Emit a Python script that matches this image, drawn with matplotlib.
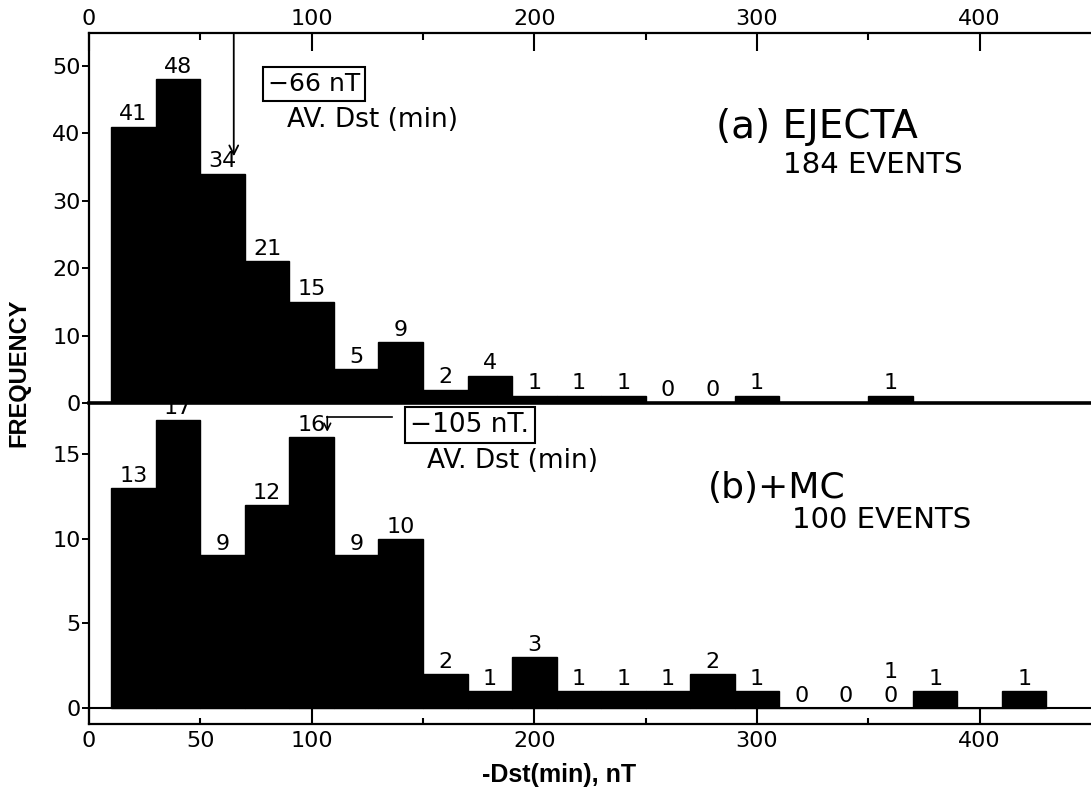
import matplotlib.pyplot as plt
from matplotlib.ticker import FixedLocator, FixedFormatter

plt.rcParams['font.family'] = ['DejaVu Sans']

# 20 nT bins of -Dst(min)
bin_centers = [20, 40, 60, 80, 100, 120, 140, 160, 180, 200, 220,
               240, 260, 280, 300, 320, 340, 360, 380, 400, 420]
ejecta_counts = [41, 48, 34, 21, 15, 5, 9, 2, 4, 1, 1,
                 1, 0, 0, 1, 0, 0, 1, 0, 0, 0]
mc_counts = [13, 17, 9, 12, 16, 9, 10, 2, 1, 3, 1,
             1, 1, 2, 1, 0, 0, 0, 1, 0, 1]
# which bins carry a count label
ejecta_labeled = [1, 1, 1, 1, 1, 1, 1, 1, 1, 1, 1,
                  1, 1, 1, 1, 0, 0, 1, 0, 0, 0]
mc_labeled = [1, 1, 1, 1, 1, 1, 1, 1, 1, 1, 1,
              1, 1, 1, 1, 1, 1, 1, 1, 0, 1]

ejecta_mean = 66
mc_mean = 105

fig = plt.figure(figsize=(10.91, 7.93), dpi=100)
ax2 = fig.add_axes([0.0816, 0.087, 0.9184, 0.4048])
ax1 = fig.add_axes([0.0816, 0.4918, 0.9184, 0.4666])

for ax in (ax1, ax2):
    ax.set_xlim(0, 450)
    ax.set_facecolor('none')
    ax.spines['right'].set_visible(False)
    for s in ax.spines.values():
        s.set_linewidth(1.6)
    ax.xaxis.set_major_locator(FixedLocator([0, 100, 200, 300, 400]))
    ax.xaxis.set_minor_locator(FixedLocator([50, 150, 250, 350]))
    ax.tick_params(axis='y', direction='out', length=5, width=1.4, labelsize=16, pad=1)

# (a) ejecta
ax1.bar(bin_centers, ejecta_counts, width=20, color='black', edgecolor='black', linewidth=1)
ax1.set_ylim(0, 54.9)
ax1.set_yticks([0, 10, 20, 30, 40, 50])
ax1.xaxis.tick_top()
ax1.tick_params(axis='x', which='major', direction='in', length=13, width=1.5,
                labelsize=16, pad=3)
ax1.tick_params(axis='x', which='minor', direction='in', length=5, width=1.5)
ax1.spines['bottom'].set_linewidth(2.6)
for x, c, lab in zip(bin_centers, ejecta_counts, ejecta_labeled):
    if lab:
        ax1.annotate(str(c), (x, c), xytext=(0, 2), textcoords='offset points',
                     ha='center', va='bottom', fontsize=16)

ax1.annotate('', xy=(ejecta_mean - 1, 36.6), xytext=(ejecta_mean - 1, 54.9),
             arrowprops=dict(arrowstyle='->', lw=1.3, color='black',
                             mutation_scale=16, shrinkA=0, shrinkB=0))
ax1.text(101, 47.4, '\u221266 nT', ha='center', va='center', fontsize=18,
         bbox=dict(boxstyle='square,pad=0.2', fc='white', ec='black', lw=1.5))
ax1.text(127.5, 42.0, 'AV. Dst (min)', ha='center', va='center', fontsize=19)
ax1.text(327, 40.9, '(a) EJECTA', ha='center', va='center', fontsize=28)
ax1.text(352, 35.3, '184 EVENTS', ha='center', va='center', fontsize=21)

# (b) + magnetic clouds
ax2.bar(bin_centers, mc_counts, width=20, color='black', edgecolor='black', linewidth=1)
ax2.axhline(0, color='black', lw=1.5)
ax2.set_ylim(-0.95, 18.0)
ax2.set_yticks([0, 5, 10, 15])
ax2.spines['top'].set_visible(False)
ax2.xaxis.set_major_formatter(FixedFormatter(['0', '100', '200', '300', '400']))
ax2.xaxis.set_minor_formatter(FixedFormatter(['50', '', '', '']))
ax2.tick_params(axis='x', which='both', direction='in', width=1.5, labelsize=16, pad=5)
ax2.tick_params(axis='x', which='major', length=11.5)
ax2.tick_params(axis='x', which='minor', length=4.5)
for x, c, lab in zip(bin_centers, mc_counts, mc_labeled):
    if lab:
        ax2.text(x, c + 0.1, str(c), ha='center', va='bottom', fontsize=16,
                 clip_on=True)
# second count written over the 350-370 bin
ax2.text(360, 1.55, '1', ha='center', va='bottom', fontsize=16)

ax2.plot([136, mc_mean + 2], [17.2, 17.2], color='black', lw=1.2)
ax2.annotate('', xy=(mc_mean + 2, 16.3), xytext=(mc_mean + 2, 17.2),
             arrowprops=dict(arrowstyle='->', lw=1.2, color='black',
                             mutation_scale=12, shrinkA=0, shrinkB=0))
ax2.text(171, 16.7, '\u2212105 nT.', ha='center', va='center', fontsize=19,
         bbox=dict(boxstyle='square,pad=0.2', fc='white', ec='black', lw=1.5))
ax2.text(190, 14.6, 'AV. Dst (min)', ha='center', va='center', fontsize=19)
ax2.text(309, 13.0, '(b)+MC', ha='center', va='center', fontsize=26)
ax2.text(356, 11.1, '100 EVENTS', ha='center', va='center', fontsize=21)

fig.text(0.0175, 0.53, 'FREQUENCY', rotation=90, ha='center', va='center',
         fontsize=17, fontweight='bold', family=['Liberation Sans', 'DejaVu Sans'])
fig.text(0.512, 0.023, '-Dst(min), nT', ha='center', va='center', fontsize=18,
         fontweight='bold', family=['Liberation Sans Narrow', 'Liberation Sans'])

fig.savefig('out.png', dpi=100)
